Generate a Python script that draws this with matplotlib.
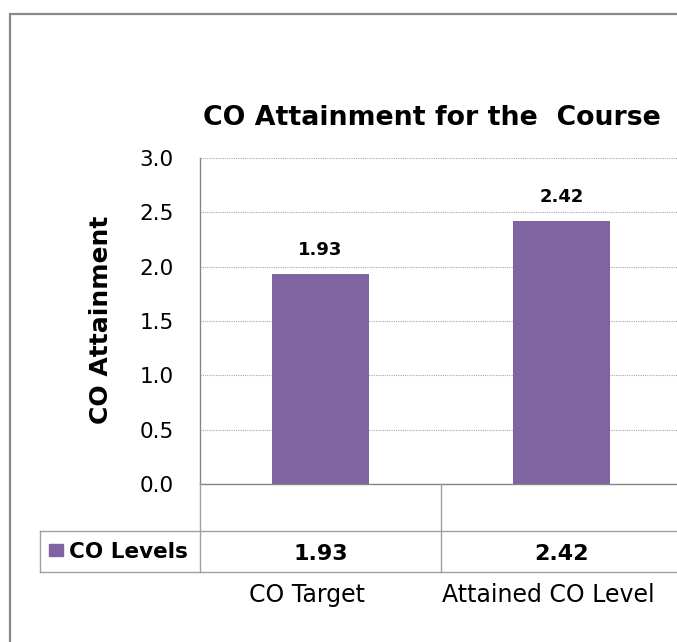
import numpy as np
import matplotlib
matplotlib.use("Agg")
import matplotlib.pyplot as plt
from matplotlib.lines import Line2D
from matplotlib.patches import Rectangle
from matplotlib.transforms import blended_transform_factory

# chart data
categories = ["CO Target", "Attained CO Level"]
co_levels = [1.93, 2.42]
series_name = "CO Levels"
title = "CO Attainment for the  Course"
y_label = "CO Attainment"
y_ticks = [0.0, 0.5, 1.0, 1.5, 2.0, 2.5, 3.0]

W, H = 677, 642
bar_color = "#8064A2"
line_gray = "#A0A0A0"

fig = plt.figure(figsize=(W / 100, H / 100), dpi=100)


def fx(px):
    return px / W


def fy(py):
    return 1 - py / H


# plot area (runs off the right edge, like the cropped original)
ax = fig.add_axes([fx(200), fy(484), fx(482), (484 - 158) / H])
x = np.arange(len(categories))
ax.bar(x, co_levels, width=0.4, color=bar_color, zorder=3)
ax.set_xlim(-0.5, len(categories) - 0.5)
ax.set_ylim(0, 3.0)
ax.set_yticks(y_ticks)
ax.set_yticklabels([f"{t:.1f}" for t in y_ticks])
ax.set_xticks([])
ax.tick_params(axis="y", length=0, pad=19, labelsize=15.5)
ax.yaxis.grid(True, linestyle=(0, (1, 1)), color="#A8A8A8", lw=0.8, zorder=0)
for s in ["top", "right"]:
    ax.spines[s].set_visible(False)
for s in ["left", "bottom"]:
    ax.spines[s].set_color("#868686")
    ax.spines[s].set_linewidth(1.0)

# value labels above bars
for xi, v in zip(x, co_levels):
    ax.annotate(f"{v:.2f}", (xi, v), xytext=(0, 11), textcoords="offset points",
                ha="center", va="bottom", fontsize=13, fontweight="bold")

# title and y label
fig.text(fx(431.5), fy(125), title, ha="center", va="baseline",
         fontsize=19.3, fontweight="bold")
fig.text(fx(101), fy(320), y_label, rotation=90, ha="center", va="center",
         fontsize=18, fontweight="bold")

# data table below the plot
tr = blended_transform_factory(ax.transData, fig.transFigure)
edges = np.arange(len(categories) + 1) - 0.5
for e in edges:
    fig.add_artist(Line2D([e, e], [fy(484), fy(572)], transform=tr,
                          color=line_gray, lw=1.0, clip_on=False))
for py in [531, 572]:
    fig.add_artist(Line2D([fx(40), fx(700)], [fy(py), fy(py)],
                          transform=fig.transFigure, color=line_gray, lw=1.0))
fig.add_artist(Line2D([fx(40), fx(40)], [fy(531), fy(572)],
                      transform=fig.transFigure, color=line_gray, lw=1.0))

fig.add_artist(Rectangle((fx(49), fy(556)), fx(14), 12 / H,
                         transform=fig.transFigure, color=bar_color))
fig.text(fx(69), fy(558), series_name, ha="left", va="baseline",
         fontsize=15.5, fontweight="bold")
for xi, v in zip(x, co_levels):
    fig.text(xi, fy(560), f"{v:.2f}", transform=tr, ha="center",
             va="baseline", fontsize=16, fontweight="bold")

# category labels
for xi, c in zip(x, categories):
    ax.annotate(c, (xi, fy(602)), xycoords=tr, xytext=(-9.5, 0),
                textcoords="offset points", ha="center", va="baseline",
                fontsize=17, annotation_clip=False)

# outer chart border
fig.add_artist(Rectangle((fx(10), fy(700)), fx(700), (700 - 14) / H,
                         transform=fig.transFigure, fill=False,
                         edgecolor="#888888", lw=1.6))

fig.savefig("out.png", dpi=100)
